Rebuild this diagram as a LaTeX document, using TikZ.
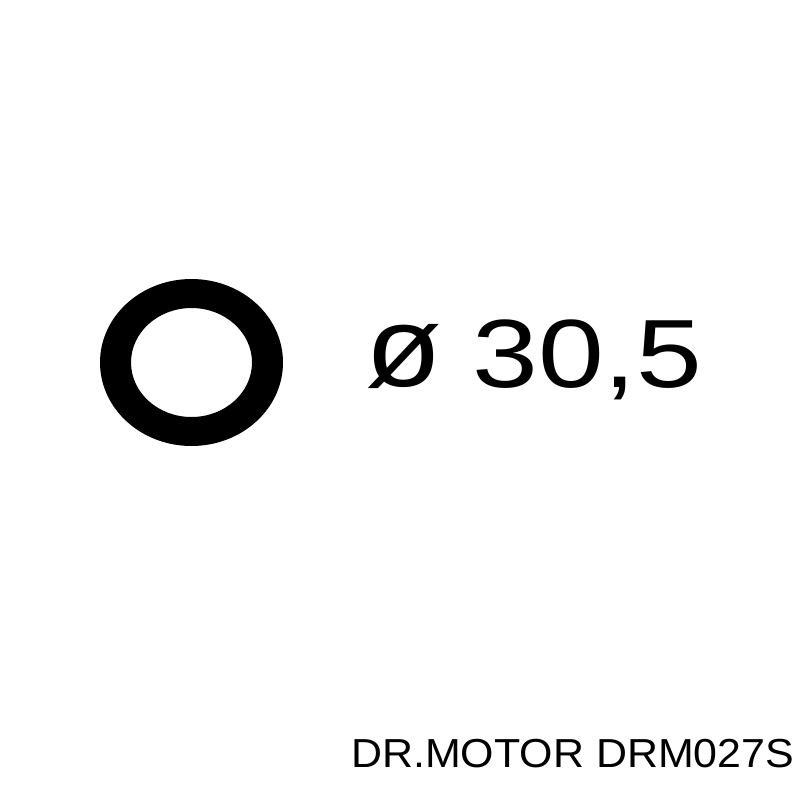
\documentclass[tikz,border=0pt]{standalone}
\usepackage{fontspec}
\setmainfont{Liberation Sans}
\usepackage{tikz}
\usetikzlibrary{positioning}
\tikzstyle{ringfill}=[fill=black,even odd rule]
\tikzstyle{sizetext}=[inner sep=0pt,anchor=base west,font=\fontsize{97}{97}\selectfont]
\tikzstyle{parttext}=[inner sep=0pt,anchor=base west,font=\fontsize{40.5}{40.5}\selectfont]

\begin{document}
\begin{tikzpicture}[x=1pt,y=-1pt]
\useasboundingbox (0,0) rectangle (800,800);
\fill[white] (0,0) rectangle (800,800);
% o-ring
\coordinate (c) at (191.5,362.5);
\fill[ringfill] (c) ellipse [x radius=91.5, y radius=83.5]
                (c) ellipse [x radius=60.5, y radius=54.5];
% texts
\node [sizetext, font=\fontsize{114}{114}\selectfont] (dia) at (365,386) {\scalebox{1.1}[1]{ø}};
\node [sizetext] (size) at (472,387) {\scalebox{1.22}[1]{30,5}};
\node [parttext] (part) at (351,767) {\scalebox{1.06}[1]{DR.MOTOR DRM027S}};
\end{tikzpicture}
\end{document}
